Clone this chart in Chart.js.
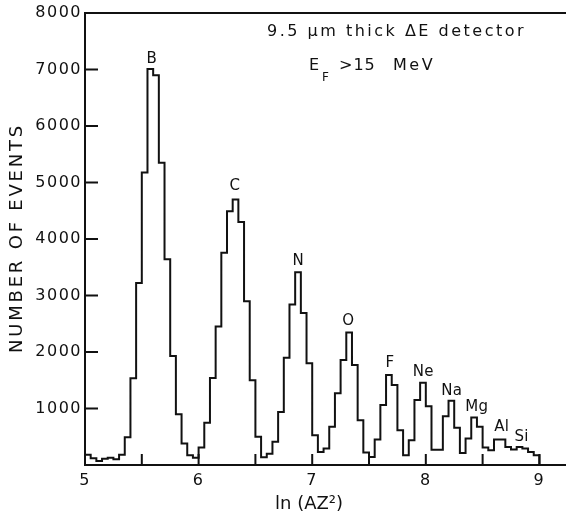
<!DOCTYPE html>
<html>
<head>
<meta charset="utf-8">
<title>Number of events vs ln(AZ2)</title>
<script src="https://cdn.jsdelivr.net/npm/chart.js@4.4.0/dist/chart.umd.min.js"></script>
<style>
  html, body { margin: 0; padding: 0; background: #fff; }
  #chart { display: block; }
</style>
</head>
<body>
<canvas id="chart" width="566" height="517"></canvas>
<script>
// histogram bins: 0.05 wide, from ln(AZ^2) = 5 to 9
const binStart = 5.0;
const binWidth = 0.05;
const counts = [
  180, 120, 70, 110, 130, 100, 180, 490, 1535, 3220,
  5175, 7010, 6900, 5350, 3640, 1930, 900, 380, 172, 130,
  310, 750, 1540, 2450, 3755, 4490, 4700, 4300, 2900, 1500,
  500, 135, 200, 410, 940, 1900, 2840, 3410, 2690, 1800,
  527, 231, 291, 675, 1268, 1860, 2345, 1770, 794, 220,
  142, 451, 1060, 1593, 1415, 616, 172, 438, 1149, 1456,
  1040, 270, 270, 865, 1135, 660, 213, 469, 842, 675,
  309, 261, 451, 451, 320, 274, 320, 291, 231, 172
];

const xTicks = [5, 6, 7, 8, 9];
const xTickMarks = [5.5, 6, 6.5, 7, 7.5, 8, 8.5, 9];
const yTicks = [1000, 2000, 3000, 4000, 5000, 6000, 7000, 8000];

const peakNames = ["B", "C", "N", "O", "F", "Ne", "Na", "Mg", "Al", "Si"];
const peakX = [5.587, 6.320, 6.878, 7.318, 7.685, 7.978, 8.228, 8.448, 8.668, 8.844];
const peakY = [7190, 4940, 3600, 2540, 1810, 1650, 1300, 1030, 675, 490];

const FONT = "'DejaVu Sans', 'Liberation Sans', sans-serif";
const INK = "#111";

const points = counts.map((c, i) => ({ x: binStart + i * binWidth, y: c }));
points.push({ x: binStart + counts.length * binWidth, y: 0 });

function spacedText(ctx, text, x, y, size, spacing, align = "left") {
  ctx.font = `${size}px ${FONT}`;
  ctx.letterSpacing = `${spacing}px`;
  ctx.textAlign = align;
  ctx.fillText(text, x, y);
}

const frame = {
  id: "frame",
  beforeDraw(chart) {
    // slightly wider lettering for the tick labels drawn by the scales
    chart.ctx.letterSpacing = "1.5px";
  },
  afterDraw(chart) {
    const { ctx, chartArea: a, scales: { x, y } } = chart;
    ctx.save();
    ctx.strokeStyle = INK;
    ctx.lineWidth = 2;
    ctx.beginPath();
    ctx.moveTo(a.left, a.top);
    ctx.lineTo(a.right, a.top);
    ctx.moveTo(a.left, a.top - 1);
    ctx.lineTo(a.left, a.bottom + 1);
    ctx.moveTo(a.left, a.bottom);
    ctx.lineTo(a.right, a.bottom);
    yTicks.forEach(v => {
      const py = y.getPixelForValue(v);
      ctx.moveTo(a.left, py);
      ctx.lineTo(a.left + 13, py);
    });
    xTickMarks.forEach(v => {
      const px = x.getPixelForValue(v);
      ctx.moveTo(px, a.bottom);
      ctx.lineTo(px, a.bottom - 11);
    });
    ctx.stroke();

    ctx.fillStyle = INK;
    ctx.textBaseline = "middle";
    peakNames.forEach((name, i) => {
      spacedText(ctx, name, x.getPixelForValue(peakX[i]), y.getPixelForValue(peakY[i]), 15, 0.3, "center");
    });

    ctx.textBaseline = "alphabetic";
    spacedText(ctx, "9.5 \u03bcm thick \u0394E detector", 267, 36, 16, 2.5);
    spacedText(ctx, "E", 309, 70, 16, 0);
    spacedText(ctx, "F", 322, 81, 12, 0);
    spacedText(ctx, ">15", 339, 70, 16, 1);
    spacedText(ctx, "MeV", 393, 70, 16, 2.5);

    spacedText(ctx, "ln (AZ\u00b2)", 275, 509, 18, 0);

    ctx.translate(22, 238);
    ctx.rotate(-Math.PI / 2);
    spacedText(ctx, "NUMBER OF EVENTS", 0, 0, 18, 2.8, "center");
    ctx.restore();
    ctx.letterSpacing = "0px";
  }
};

new Chart(document.getElementById("chart"), {
  type: "line",
  data: {
    datasets: [{
      data: points,
      stepped: true,
      borderColor: INK,
      borderWidth: 2,
      pointRadius: 0,
      fill: false
    }]
  },
  options: {
    responsive: false,
    animation: false,
    layout: { padding: { top: 13, right: 0, bottom: 0, left: 0 } },
    plugins: { legend: { display: false }, tooltip: { enabled: false } },
    scales: {
      x: {
        type: "linear",
        min: 5,
        max: 9.234,
        grid: { display: false, drawTicks: false },
        border: { display: false },
        afterBuildTicks: s => { s.ticks = xTicks.map(v => ({ value: v })); },
        afterFit: s => { s.height = 52; s.paddingLeft = 0; s.paddingRight = 0; },
        ticks: {
          padding: 6,
          color: INK,
          autoSkip: false,
          maxRotation: 0,
          font: { family: FONT, size: 16 },
          callback: v => String(v)
        }
      },
      y: {
        min: 0,
        max: 8000,
        grid: { display: false, drawTicks: false },
        border: { display: false },
        afterBuildTicks: s => { s.ticks = yTicks.map(v => ({ value: v })); },
        afterFit: s => { s.width = 85; s.paddingTop = 0; s.paddingBottom = 0; },
        ticks: {
          padding: 3,
          color: INK,
          font: { family: FONT, size: 16 },
          callback: v => String(v)
        }
      }
    }
  },
  plugins: [frame]
});
</script>
</body>
</html>
